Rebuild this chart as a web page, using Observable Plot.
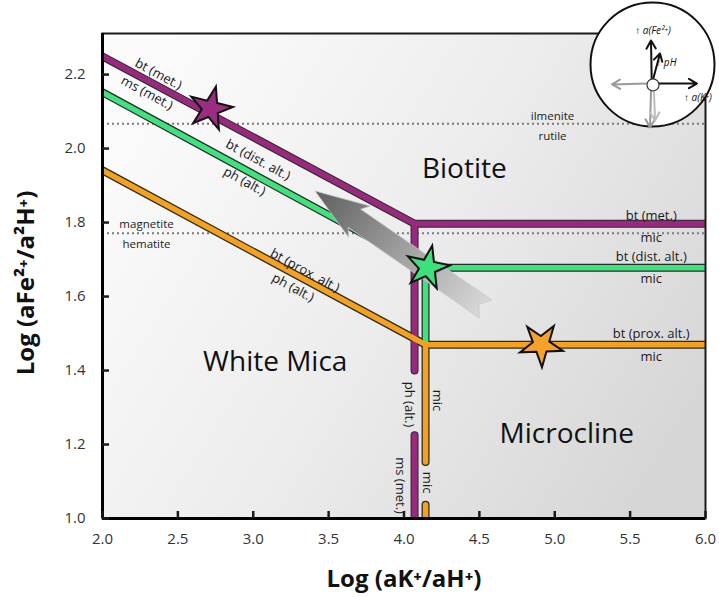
<!DOCTYPE html>
<html><head><meta charset="utf-8">
<script src="https://cdn.jsdelivr.net/npm/d3@7"></script>
<script src="https://cdn.jsdelivr.net/npm/@observablehq/plot@0.6"></script>
<style>
body{margin:0;background:#fff;}
#wrap{position:relative;width:719px;height:597px;overflow:hidden;}
#inset{position:absolute;left:587px;top:-1px;}
svg{overflow:visible;}
</style></head><body>
<div id="wrap"><div id="main"></div><div id="inset"></div></div>
<script>
// ---------- data ----------
const xTicks = [2.0, 2.5, 3.0, 3.5, 4.0, 4.5, 5.0, 5.5, 6.0];
const yTicks = [1.0, 1.2, 1.4, 1.6, 1.8, 2.0, 2.2];
const xTitle = "Log (aK⁺/aH⁺)";
const yTitle = "Log (aFe²⁺/a²H⁺)";

// bt (met.) / ms (met.) boundary (purple)
const metX = [2.0, 4.07, 6.0], metY = [2.249, 1.797, 1.797];
const metV1X = [4.07, 4.07], metV1Y = [1.797, 1.40];
const metV2X = [4.07, 4.07], metV2Y = [1.225, 1.0];
// bt (dist. alt.) / ph (alt.) boundary (green)
const distX = [2.0, 4.143, 6.0], distY = [2.152, 1.678, 1.678];
const distVX = [4.143, 4.143], distVY = [1.678, 1.470];
// bt (prox. alt.) / ph (alt.) boundary (orange)
const proxX = [2.0, 4.143, 6.0], proxY = [1.941, 1.470, 1.470];
const proxV1X = [4.143, 4.143], proxV1Y = [1.470, 1.153];
const proxV2X = [4.143, 4.143], proxV2Y = [1.037, 1.0];

// buffer reactions (dotted)
const bufferY = [2.067, 1.771];
const bufferLabels = [
  {x: 4.985, y: 2.086, t: "ilmenite"}, {x: 4.985, y: 2.032, t: "rutile"},
  {x: 2.292, y: 1.795, t: "magnetite"}, {x: 2.292, y: 1.741, t: "hematite"}
];

// stars
const starX = [2.716, 4.156, 4.91];
const starY = [2.108, 1.678, 1.470];
const starColor = ["#9a2d80", "#3ee07c", "#f6a22a"];
const starTilt = [14, 12, 34];

// flow arrow (tail -> head)
const flowX = [4.544, 3.413];
const flowY = [1.565, 1.884];

// labels
const diagLabels = [
  {x: 2.371, y: 2.201, t: "bt (met.)"},
  {x: 2.295, y: 2.150, t: "ms (met.)"},
  {x: 3.032, y: 1.969, t: "bt (dist. alt.)"},
  {x: 2.942, y: 1.911, t: "ph (alt.)"},
  {x: 3.343, y: 1.670, t: "bt (prox. alt.)"},
  {x: 3.264, y: 1.624, t: "ph (alt.)"}
];
const rightLabels = [
  {x: 5.64, y: 1.819, t: "bt (met.)"}, {x: 5.64, y: 1.759, t: "mic"},
  {x: 5.64, y: 1.708, t: "bt (dist. alt.)"}, {x: 5.64, y: 1.649, t: "mic"},
  {x: 5.64, y: 1.500, t: "bt (prox. alt.)"}, {x: 5.64, y: 1.438, t: "mic"}
];
const vertLabels = [
  {x: 4.036, y: 1.308, t: "ph (alt.)"}, {x: 4.222, y: 1.319, t: "mic"},
  {x: 3.977, y: 1.089, t: "ms (met.)"}, {x: 4.156, y: 1.097, t: "mic"}
];
const fieldLabels = [
  {x: 4.40, y: 1.945, t: "Biotite"},
  {x: 3.146, y: 1.422, t: "White Mica"},
  {x: 5.08, y: 1.227, t: "Microcline"}
];

// inset schematic (unit circle coordinates)
const insetArrows = [
  {x1: -0.013, y1: -0.222, x2: -0.024, y2: 0.381, c: "#111"},
  {x1: 0.013, y1: -0.222, x2: 0.119, y2: 0.175, c: "#111"},
  {x1: 0.087, y1: -0.302, x2: 0.706, y2: -0.302, c: "#111"},
  {x1: -0.087, y1: -0.302, x2: -0.643, y2: -0.317, c: "#999"},
  {x1: -0.024, y1: -0.429, x2: -0.040, y2: -1.0, c: "#999"},
  {x1: 0.024, y1: -0.444, x2: 0.040, y2: -0.889, c: "#bbb"}
];
const insetLabels = [
  {x: 0.008, y: 0.54, t: "↑ a(Fe²⁺)", a: "middle"},
  {x: 0.22, y: 0.03, t: "↑ pH", a: "start"},
  {x: 0.72, y: -0.524, t: "↑ a(K⁺)", a: "middle"}
];

// ---------- helpers ----------
const rows = (part, xs, ys) => xs.map((x, i) => ({part, x, y: ys[i]}));
const purple = [...rows("d", metX, metY), ...rows("v1", metV1X, metV1Y), ...rows("v2", metV2X, metV2Y)];
const green = [...rows("d", distX, distY), ...rows("v", distVX, distVY)];
const orange = [...rows("d", proxX, proxY), ...rows("v1", proxV1X, proxV1Y), ...rows("v2", proxV2X, proxV2Y)];
const stars = starX.map((x, i) => ({x, y: starY[i], c: starColor[i], r: starTilt[i]}));

const colP = "#98297e", colG = "#3fe27d", colO = "#f5a11e";

function background(index, scales, values, dim) {
  const g = d3.create("svg:g");
  const lg = g.append("defs").append("linearGradient").attr("id", "bgGrad")
    .attr("x1", 0).attr("y1", 0.25).attr("x2", 1).attr("y2", 0.75);
  lg.append("stop").attr("offset", 0).attr("stop-color", "#fbfbfb");
  lg.append("stop").attr("offset", 0.5).attr("stop-color", "#ececec");
  lg.append("stop").attr("offset", 1).attr("stop-color", "#d6d6d6");
  g.append("rect").attr("x", dim.marginLeft).attr("y", dim.marginTop)
    .attr("width", dim.width - dim.marginLeft - dim.marginRight)
    .attr("height", dim.height - dim.marginTop - dim.marginBottom)
    .attr("fill", "url(#bgGrad)");
  return g.node();
}

function flowArrow(index, scales) {
  const x0 = scales.x(flowX[0]), y0 = scales.y(flowY[0]);
  const x1 = scales.x(flowX[1]), y1 = scales.y(flowY[1]);
  const L = Math.hypot(x1 - x0, y1 - y0);
  const ux = (x1 - x0) / L, uy = (y1 - y0) / L, nx = -uy, ny = ux;
  const w = 11, hw = 19, hl = 54, notch = 8;
  const P = (a, b) => [x0 + ux * a + nx * b, y0 + uy * a + ny * b];
  const pts = [P(0, w), P(L - hl + 6, w), P(L - hl, hw), P(L, 0), P(L - hl, -hw), P(L - hl + 6, -w), P(0, -w), P(notch, 0)];
  const g = d3.create("svg:g");
  const lg = g.append("defs").append("linearGradient").attr("id", "arrowGrad")
    .attr("gradientUnits", "userSpaceOnUse")
    .attr("x1", x0).attr("y1", y0).attr("x2", x1).attr("y2", y1);
  lg.append("stop").attr("offset", 0).attr("stop-color", "#d9d9d9");
  lg.append("stop").attr("offset", 0.45).attr("stop-color", "#a4a4a4");
  lg.append("stop").attr("offset", 1).attr("stop-color", "#5f5f5f");
  g.append("path").attr("d", "M" + pts.map(p => p.join(",")).join("L") + "Z")
    .attr("fill", "url(#arrowGrad)").attr("stroke", "#c8c8c8").attr("stroke-width", 0.8);
  return g.node();
}

const lineOpts = (data, stroke, w) => Plot.line(data, {x: "x", y: "y", z: "part", stroke, strokeWidth: w,
  strokeLinecap: "round", strokeLinejoin: "miter", clip: "frame"});

const main = Plot.plot({
  width: 719, height: 597,
  marginLeft: 102, marginRight: 14, marginTop: 33, marginBottom: 79,
  x: {domain: [2.0, 6.0]},
  y: {domain: [1.0, 2.311]},
  style: {fontFamily: "'Open Sans', 'Noto Sans', sans-serif", color: "#1a1a1a", background: "transparent"},
  marks: [
    background,
    Plot.ruleY(bufferY, {x1: 2.0, x2: 6.0, stroke: "#7a7a7a", strokeWidth: 2, strokeDasharray: "2,3"}),
    Plot.text(bufferLabels, {x: "x", y: "y", text: "t", fontSize: 11.5, fill: "#222"}),
    lineOpts(purple, "#2a2a2a", 8), lineOpts(green, "#2a2a2a", 8), lineOpts(orange, "#2a2a2a", 8),
    lineOpts(purple, colP, 6), lineOpts(green, colG, 5.5), lineOpts(orange, colO, 5.5),
    flowArrow,
    Plot.dot(stars, {x: "x", y: "y", fill: "c", symbol: "star", r: 13.5, rotate: "r", stroke: "#111", strokeWidth: 2}),
    Plot.text(diagLabels, {x: "x", y: "y", text: "t", rotate: 28.5, fontSize: 13, fill: "#1a1a1a"}),
    Plot.text(rightLabels, {x: "x", y: "y", text: "t", fontSize: 13, fill: "#1a1a1a"}),
    Plot.text(vertLabels, {x: "x", y: "y", text: "t", rotate: 90, fontSize: 13, fill: "#1a1a1a"}),
    Plot.text(fieldLabels, {x: "x", y: "y", text: "t", fontSize: 28, fill: "#111"}),
    Plot.frame({stroke: "#1a1a1a", strokeWidth: 2}),
    Plot.ruleX([2.0], {stroke: "#000", strokeWidth: 3}),
    Plot.ruleY([1.0], {stroke: "#000", strokeWidth: 3}),
    Plot.axisX(xTicks, {tickSize: -7, tickPadding: 22, tickFormat: d3.format(".1f"), fontSize: 15, strokeWidth: 2.5, fill: "#333", label: null}),
    Plot.axisY(yTicks, {tickSize: -7, tickPadding: 24, tickFormat: d3.format(".1f"), fontSize: 15, strokeWidth: 2.5, fill: "#333", label: null}),
    Plot.text([xTitle], {frameAnchor: "bottom", lineAnchor: "middle", textAnchor: "middle", dy: 61, fontSize: 24, fontWeight: "bold", fill: "#111"}),
    Plot.text([yTitle], {frameAnchor: "left", lineAnchor: "middle", textAnchor: "middle", dx: -76, dy: 7, rotate: -90, fontSize: 24, fontWeight: "bold", fill: "#111"})
  ]
});
document.getElementById("main").append(main);

const inset = Plot.plot({
  width: 130, height: 130, margin: 0,
  x: {domain: [-65 / 63, 65 / 63], axis: null},
  y: {domain: [-65 / 63, 65 / 63], axis: null},
  style: {fontFamily: "'Open Sans', 'Noto Sans', sans-serif", background: "transparent"},
  marks: [
    Plot.dot([{x: 0, y: 0}], {x: "x", y: "y", r: 62, fill: "#fff", stroke: "#111", strokeWidth: 2}),
    Plot.arrow(insetArrows, {x1: "x1", y1: "y1", x2: "x2", y2: "y2", stroke: "c", strokeWidth: 2, headLength: 7}),
    Plot.dot([{x: 0.008, y: -0.324}], {x: "x", y: "y", r: 6, fill: "#fff", stroke: "#333", strokeWidth: 1.2}),
    Plot.text(insetLabels, {x: "x", y: "y", text: "t", textAnchor: "a", fontSize: 10, fontStyle: "italic", fill: "#111"})
  ]
});
document.getElementById("inset").append(inset);
</script>
</body></html>
